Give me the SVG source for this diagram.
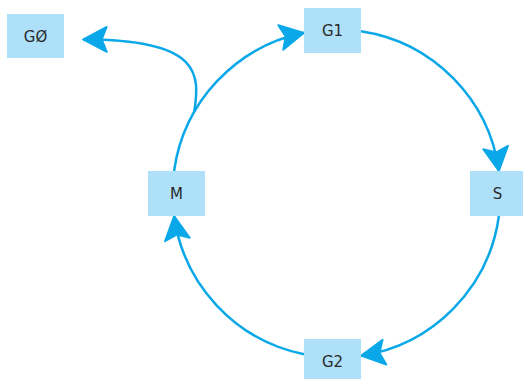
<svg xmlns="http://www.w3.org/2000/svg" width="523" height="379" viewBox="0 0 523 379">
<style>
.box{fill:#aee0fa}
.lbl{font-family:"DejaVu Sans",sans-serif;font-size:15px;fill:#2a2a2a;text-anchor:middle}
.c{fill:none;stroke:#0aa8e8;stroke-width:2.5;marker-end:url(#ah)}
</style>
<defs>
<marker id="ah" markerUnits="userSpaceOnUse" markerWidth="30" markerHeight="30" viewBox="-2 -12 24 24" refX="19" refY="0" orient="auto">
<path d="M0,-10 L19,0 L0,10 L4,0 z" fill="#0aa8e8" stroke="#0aa8e8" stroke-width="1.5" stroke-linejoin="round"/>
</marker>
</defs>
<rect width="523" height="379" fill="#fff"/>
<g id="connectors">
<path class="c" d="M 361 31.3 A 164 164 0 0 1 498.9 171"/>
<path class="c" d="M 498.9 216 A 164 164 0 0 1 361 355.7"/>
<path class="c" d="M 304 354.2 A 164 164 0 0 1 174.1 216"/>
<path class="c" d="M 174.1 171 A 164 164 0 0 1 304 32.8"/>
<path class="c" d="M 194.2 112 C 200 75, 202 39, 83 39.5"/>
</g>
<g id="G0"><rect class="box" x="7" y="14" width="57" height="44"/><text class="lbl" x="35.5" y="41.5">GØ</text></g>
<g id="G1"><rect class="box" x="304" y="8" width="57" height="45"/><text class="lbl" x="332.5" y="36">G1</text></g>
<g id="S"><rect class="box" x="470" y="171" width="57" height="45"/><text class="lbl" x="497.5" y="199">S</text></g>
<g id="G2"><rect class="box" x="304" y="339" width="57" height="45"/><text class="lbl" x="332.5" y="367">G2</text></g>
<g id="M"><rect class="box" x="148" y="171" width="57" height="45"/><text class="lbl" x="176.5" y="199">M</text></g>
</svg>
